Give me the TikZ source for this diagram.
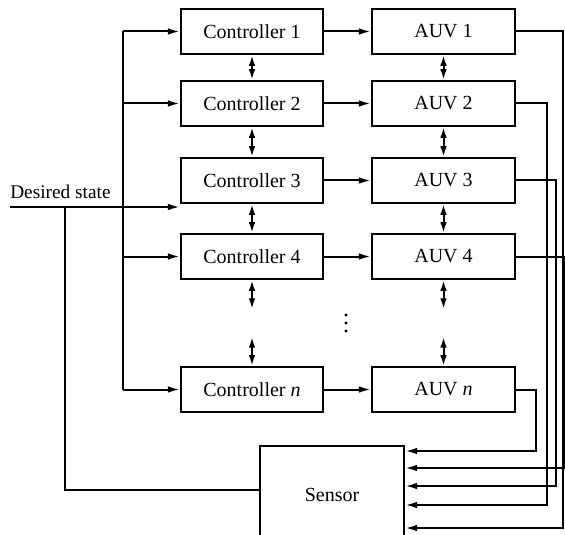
\documentclass[tikz,border=0pt]{standalone}
\usepackage{fontspec}
\setmainfont{Liberation Serif}
\usetikzlibrary{arrows.meta}

\begin{document}
\begin{tikzpicture}[x=0.75pt,y=-0.75pt,font=\fontsize{15}{18}\selectfont,
  block/.style={draw,line width=1.8pt,minimum width=106.5pt,minimum height=33.75pt,inner sep=0pt},
  link/.style={line width=1.5pt,-{Latex[length=9pt,width=5pt]}},
  both/.style={line width=1.5pt,{Latex[length=8pt,width=5pt]}-{Latex[length=8pt,width=5pt]}}]
  \useasboundingbox (0,0) rectangle (565,535);
  \foreach \k/\y/\lbl in {1/31.5/1,2/103.5/2,3/180.5/3,4/256.5/4,n/389.5/\textit{n}} {
    \node[block] (ctrl\k) at (252,\y) {Controller \lbl};
    \node[block,minimum width=107.25pt] (auv\k) at (443.5,\y) {AUV \lbl};
    \draw[link] (ctrl\k.east) -- (auv\k.west);
  }
  \coordinate (dots) at (346,323);
  \foreach \d in {-8,0,8}
    \fill ([yshift=\d*0.75pt]dots) circle (1.3pt);
  \node[block,minimum width=108pt,minimum height=73.5pt] (sensor) at (332,495) {Sensor};
  \coordinate (bus) at (123,0);
  \coordinate (ds) at (10,207);
  \coordinate (tap) at (65,207);
  \coordinate (c4low) at (252,309);
  \coordinate (cnup) at (252,337);
  \coordinate (a4low) at (443.5,309);
  \coordinate (anup) at (443.5,337);
  \node[anchor=south west,inner xsep=0pt,inner ysep=6pt,font=\fontsize{14.5}{17}\selectfont] (dslabel) at (ds) {Desired state};
  \draw[line width=1.5pt] (bus |- ctrl1.west) -- (bus |- ctrln.west);
  \foreach \k in {1,2,4,n}
    \draw[link] (bus |- ctrl\k.west) -- (ctrl\k.west);
  \draw[link] (ds) -- (ds -| ctrl3.west);
  \draw[line width=1.5pt] (tap) |- (sensor.west |- 0,490);
  \foreach \a/\b in {1/2,2/3,3/4} {
    \draw[both] (ctrl\a.south) -- (ctrl\b.north);
    \draw[both] (auv\a.south) -- (auv\b.north);
  }
  \draw[both] (ctrl4.south) -- (c4low);
  \draw[both] (cnup) -- (ctrln.north);
  \draw[both] (auv4.south) -- (a4low);
  \draw[both] (anup) -- (auvn.north);
  \foreach \k/\col/\row in {1/563/528,2/547/505,3/556/486,4/565/468,n/536/451}
    \draw[link] (auv\k.east) -| (\col,\row) -- (sensor.east |- 0,\row);
\end{tikzpicture}
\end{document}
